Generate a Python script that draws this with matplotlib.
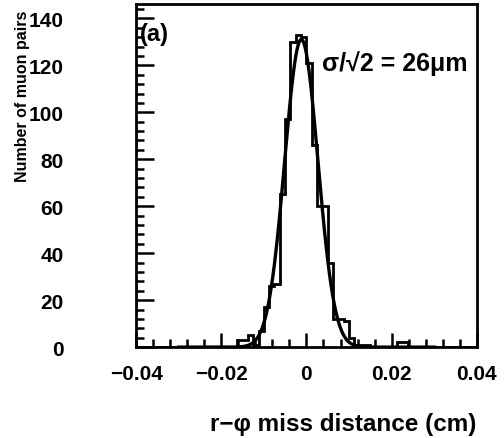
import matplotlib
matplotlib.use("Agg")
import matplotlib.pyplot as plt
import numpy as np
from matplotlib.ticker import MultipleLocator

# histogram of r-phi miss distance, 0.00125 cm bins from -0.04 to 0.04
bin_lo, bin_hi, n_bins = -0.04, 0.04, 64
counts = [0] * 19 + [
    3, 3, 5, 1, 7, 17, 26, 27, 65, 97, 130, 133, 132, 121, 86, 60,
    60, 36, 12, 12, 11, 4, 1, 1, 1, 0, 0, 0, 0, 0, 2, 2,
] + [0] * 13

# gaussian fit
fit_amp = 131.0
fit_mean = -0.0012
fit_sigma = 0.0039

xticks = [-0.04, -0.02, 0, 0.02, 0.04]
xticklabels = ["\u22120.04", "\u22120.02", "0", "0.02", "0.04"]
yticks = [0, 20, 40, 60, 80, 100, 120, 140]

plt.rcParams["font.family"] = ["Liberation Sans", "DejaVu Sans"]
plt.rcParams["font.weight"] = "bold"
plt.rcParams["axes.labelweight"] = "bold"

fig = plt.figure(figsize=(5.04, 4.39), dpi=100)
ax = fig.add_axes([0.270, 0.207, 0.676, 0.781])

edges = np.linspace(bin_lo, bin_hi, n_bins + 1)
ax.stairs(counts, edges, color="black", linewidth=2.0)

xf = np.linspace(-0.03, 0.03, 600)
yf = fit_amp * np.exp(-0.5 * ((xf - fit_mean) / fit_sigma) ** 2)
ax.plot(xf, yf, color="black", linewidth=2.4)

ax.set_xlim(-0.04, 0.04)
ax.set_ylim(0, 146)
ax.set_xticks(xticks)
ax.set_xticklabels(xticklabels)
ax.set_yticks(yticks)
ax.xaxis.set_minor_locator(MultipleLocator(0.004))
ax.yaxis.set_minor_locator(MultipleLocator(4))

ax.tick_params(which="both", direction="in", top=False, right=False,
               width=1.8, labelsize=15)
ax.tick_params(axis="x", which="major", length=10, pad=12)
ax.tick_params(axis="y", which="major", length=13, pad=52)
ax.tick_params(which="minor", length=6)
for s in ax.spines.values():
    s.set_linewidth(2.0)

ax.set_ylabel("Number of muon pairs", fontsize=11.5, loc="top")
ax.yaxis.set_label_coords(-0.311, 0.985)
ax.set_xlabel("r\u2212\u03c6 miss distance (cm)", fontsize=17.5, loc="right")
ax.xaxis.set_label_coords(1.0, -0.19)

ax.text(0.012, 0.915, "(a)", transform=ax.transAxes, fontsize=17,
        ha="left", va="center")
ax.text(0.545, 0.83, "\u03c3/\u221a2 = 26\u03bcm", transform=ax.transAxes,
        fontsize=18, ha="left", va="center")

fig.savefig("out.png", dpi=100)
